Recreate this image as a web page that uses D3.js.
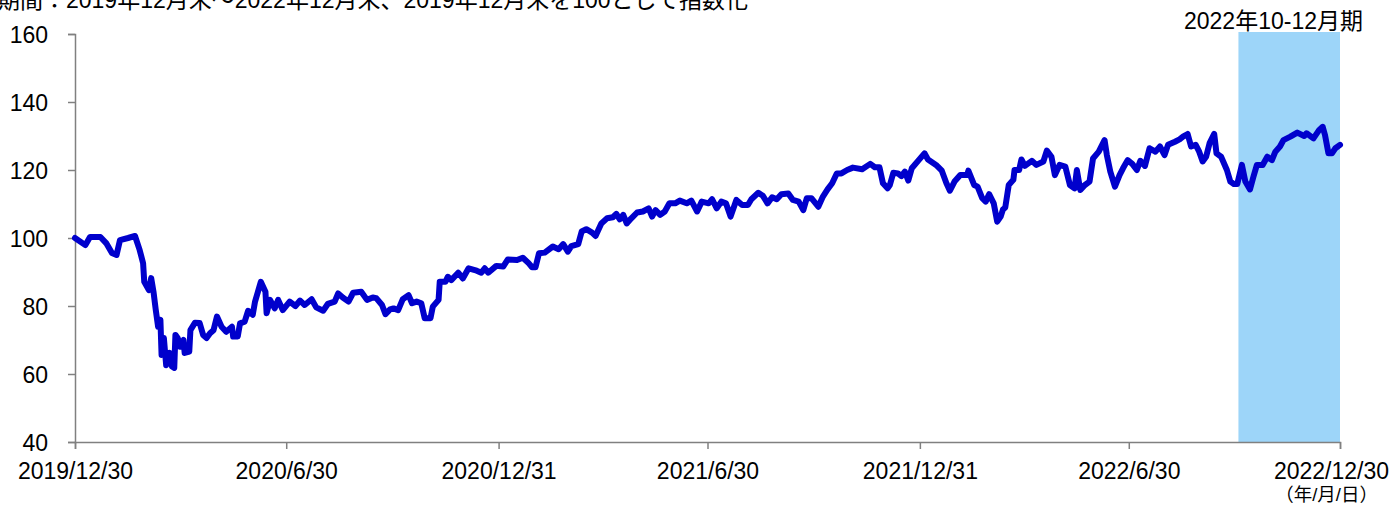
<!DOCTYPE html>
<html>
<head>
<meta charset="utf-8">
<script src="https://cdn.jsdelivr.net/npm/d3@7"></script>
<style>
  body { margin: 0; background: #fff; }
  svg text { font-family: "Liberation Sans", Arial, "Noto Sans CJK JP", sans-serif; }
</style>
</head>
<body>
<div id="chart"></div>
<script>
// data (index, 2019/12/30 = 100)
var dates = [
  '2019-12-30','2020-01-08','2020-01-12','2020-01-21','2020-01-26','2020-01-31','2020-02-04','2020-02-07',
  '2020-02-14','2020-02-20','2020-02-24','2020-02-27','2020-02-28','2020-03-03','2020-03-05','2020-03-07',
  '2020-03-09','2020-03-11','2020-03-13','2020-03-14','2020-03-16','2020-03-18','2020-03-21','2020-03-23',
  '2020-03-25','2020-03-26','2020-03-28','2020-03-30','2020-04-02','2020-04-03','2020-04-07','2020-04-08',
  '2020-04-12','2020-04-16','2020-04-19','2020-04-22','2020-04-25','2020-04-28','2020-05-01','2020-05-05',
  '2020-05-09','2020-05-14','2020-05-15','2020-05-19','2020-05-21','2020-05-25','2020-05-28','2020-06-01',
  '2020-06-03','2020-06-08','2020-06-12','2020-06-13','2020-06-16','2020-06-20','2020-06-23','2020-06-27',
  '2020-07-03','2020-07-08','2020-07-12','2020-07-16','2020-07-22','2020-07-26','2020-08-01','2020-08-05',
  '2020-08-11','2020-08-14','2020-08-18','2020-08-23','2020-08-27','2020-09-03','2020-09-08','2020-09-13',
  '2020-09-16','2020-09-21','2020-09-24','2020-09-28','2020-10-01','2020-10-05','2020-10-09','2020-10-14',
  '2020-10-17','2020-10-21','2020-10-25','2020-10-28','2020-11-02','2020-11-04','2020-11-09','2020-11-10',
  '2020-11-15','2020-11-17','2020-11-20','2020-11-26','2020-11-30','2020-12-05','2020-12-12','2020-12-16',
  '2020-12-19','2020-12-22','2020-12-29','2021-01-04','2021-01-08','2021-01-16','2021-01-21','2021-01-26',
  '2021-01-29','2021-02-01','2021-02-04','2021-02-09','2021-02-16','2021-02-21','2021-02-25','2021-03-01',
  '2021-03-04','2021-03-10','2021-03-13','2021-03-17','2021-03-22','2021-03-25','2021-03-30','2021-04-04',
  '2021-04-09','2021-04-12','2021-04-15','2021-04-18','2021-04-21','2021-04-25','2021-04-30','2021-05-05',
  '2021-05-10','2021-05-13','2021-05-16','2021-05-20','2021-05-24','2021-05-28','2021-06-02','2021-06-06',
  '2021-06-12','2021-06-16','2021-06-21','2021-06-25','2021-07-01','2021-07-04','2021-07-08','2021-07-12',
  '2021-07-16','2021-07-20','2021-07-25','2021-07-30','2021-08-04','2021-08-07','2021-08-13','2021-08-17',
  '2021-08-21','2021-08-25','2021-08-29','2021-09-02','2021-09-08','2021-09-12','2021-09-17','2021-09-21',
  '2021-09-24','2021-09-28','2021-10-04','2021-10-08','2021-10-12','2021-10-16','2021-10-20','2021-10-24',
  '2021-10-29','2021-11-03','2021-11-11','2021-11-18','2021-11-22','2021-11-26','2021-11-29','2021-12-03',
  '2021-12-05','2021-12-08','2021-12-12','2021-12-15','2021-12-18','2021-12-21','2021-12-24','2021-12-30',
  '2022-01-04','2022-01-07','2022-01-14','2022-01-19','2022-01-23','2022-01-26','2022-01-30','2022-02-04',
  '2022-02-10','2022-02-11','2022-02-16','2022-02-19','2022-02-23','2022-02-26','2022-03-01','2022-03-05',
  '2022-03-08','2022-03-11','2022-03-13','2022-03-15','2022-03-18','2022-03-22','2022-03-23','2022-03-27',
  '2022-03-29','2022-04-01','2022-04-07','2022-04-11','2022-04-17','2022-04-20','2022-04-24','2022-04-27',
  '2022-05-01','2022-05-06','2022-05-10','2022-05-14','2022-05-16','2022-05-19','2022-05-23','2022-05-27',
  '2022-05-30','2022-06-04','2022-06-09','2022-06-11','2022-06-14','2022-06-18','2022-06-22','2022-06-25',
  '2022-06-29','2022-07-03','2022-07-07','2022-07-10','2022-07-14','2022-07-18','2022-07-23','2022-07-27',
  '2022-07-31','2022-08-03','2022-08-09','2022-08-13','2022-08-16','2022-08-20','2022-08-23','2022-08-27',
  '2022-08-30','2022-09-02','2022-09-05','2022-09-08','2022-09-12','2022-09-14','2022-09-18','2022-09-23',
  '2022-09-26','2022-09-29','2022-10-02','2022-10-06','2022-10-09','2022-10-13','2022-10-16','2022-10-19',
  '2022-10-24','2022-10-28','2022-11-01','2022-11-04','2022-11-08','2022-11-11','2022-11-17','2022-11-23',
  '2022-11-29','2022-12-01','2022-12-07','2022-12-12','2022-12-15','2022-12-17','2022-12-20','2022-12-23',
  '2022-12-26','2022-12-30'
]
var values = [
  100.0, 97.9, 100.3, 100.3, 98.5, 95.6, 95.0, 99.4,
  100.0, 100.6, 96.5, 92.6, 87.1, 84.7, 88.2, 84.2,
  78.8, 73.9, 75.9, 65.6, 70.6, 62.6, 66.2, 62.2,
  61.8, 71.5, 70.6, 68.0, 70.0, 66.2, 66.6, 72.9,
  75.1, 75.0, 71.5, 70.6, 72.0, 72.9, 76.9, 73.9,
  72.4, 73.9, 71.0, 71.0, 74.9, 75.4, 78.6, 77.4,
  81.3, 87.1, 84.2, 77.9, 81.8, 79.3, 81.8, 78.8,
  81.3, 80.0, 81.6, 80.3, 82.0, 79.6, 78.6, 80.6,
  81.3, 83.7, 82.5, 81.3, 83.9, 84.2, 81.8, 82.5,
  82.3, 80.3, 77.6, 79.0, 79.3, 78.8, 82.0, 83.2,
  80.8, 81.3, 80.8, 76.4, 76.4, 79.8, 81.8, 87.1,
  87.1, 88.6, 87.6, 89.8, 88.1, 91.1, 90.4, 89.8,
  91.1, 89.8, 91.8, 91.6, 93.7, 93.5, 94.2, 92.6,
  91.4, 91.4, 95.5, 95.7, 97.5, 96.7, 98.2, 96.0,
  97.6, 98.2, 101.9, 102.6, 101.6, 100.6, 104.3, 105.8,
  106.1, 107.1, 105.5, 106.8, 104.3, 105.8, 107.5, 107.8,
  108.7, 106.3, 108.2, 106.8, 107.8, 110.2, 110.2, 111.0,
  110.2, 111.0, 107.8, 110.7, 110.2, 111.4, 108.7, 110.7,
  110.2, 106.3, 111.2, 109.7, 109.7, 111.4, 113.3, 112.4,
  110.2, 112.0, 111.4, 112.9, 113.1, 111.2, 110.7, 108.2,
  111.7, 111.7, 109.2, 112.2, 114.3, 116.1, 119.0, 119.0,
  120.0, 120.7, 120.2, 121.8, 120.8, 120.8, 116.1, 114.6,
  115.6, 119.2, 119.0, 118.2, 119.5, 116.9, 120.5, 122.9,
  124.9, 123.1, 121.5, 119.8, 116.1, 113.9, 116.6, 118.5,
  118.5, 119.8, 115.6, 115.1, 111.7, 110.7, 112.9, 110.2,
  104.8, 106.3, 108.4, 109.0, 115.6, 117.1, 120.0, 120.0,
  123.1, 121.2, 122.7, 121.5, 122.5, 125.7, 123.9, 118.5,
  121.5, 121.0, 115.6, 114.6, 120.0, 114.1, 115.6, 116.6,
  123.4, 125.4, 128.8, 124.4, 119.5, 115.1, 118.5, 120.5,
  122.9, 121.8, 120.0, 122.7, 121.2, 126.4, 125.4, 126.9,
  124.4, 127.4, 128.3, 129.0, 129.8, 130.6, 126.9, 127.4,
  125.4, 122.5, 123.9, 127.9, 130.6, 124.9, 123.9, 120.0,
  116.6, 115.9, 115.9, 121.5, 116.6, 114.3, 118.0, 121.5,
  121.5, 123.9, 122.9, 125.4, 126.9, 128.8, 129.8, 131.0,
  130.0, 130.8, 129.3, 131.8, 132.7, 130.3, 124.9, 124.9,
  126.4, 127.4
]

var yTicks = [40, 60, 80, 100, 120, 140, 160]
var xTicks = ['2019-12-30', '2020-06-30', '2020-12-31', '2021-06-30', '2021-12-31', '2022-06-30', '2022-12-30']
var shadeRange = ['2022-10-03', '2022-12-30']

var titleText = '期間：2019年12月末～2022年12月末、2019年12月末を100として指数化'
var shadeLabel = '2022年10-12月期'
var unitLabel = '（年/月/日）'

var parse = d3.timeParse('%Y-%m-%d')
var fmt = d3.timeFormat('%Y/%-m/%-d')

var W = 1391, H = 505
var margin = {top: 34, right: 51, bottom: 63, left: 75}
var width = W - margin.left - margin.right,
    height = H - margin.top - margin.bottom

var data = dates.map(function(d, i){ return {date: parse(d), value: values[i]} })

var svg = d3.select('#chart').append('svg')
  .attr('width', W).attr('height', H)

var g = svg.append('g')
  .attr('transform', 'translate(' + margin.left + ',' + margin.top + ')')

var x = d3.scaleTime()
  .domain([parse(xTicks[0]), parse(xTicks[xTicks.length - 1])])
  .range([0, width])

var y = d3.scaleLinear()
  .domain([40, 160])
  .range([height, 0])

// shaded quarter
g.append('rect')
  .attr('x', x(parse(shadeRange[0])))
  .attr('y', -2)
  .attr('width', x(parse(shadeRange[1])) - x(parse(shadeRange[0])))
  .attr('height', height + 2)
  .attr('fill', '#9dd5f9')

g.append('text')
  .attr('x', x(parse(shadeRange[1])) + 23)
  .attr('y', -5)
  .attr('text-anchor', 'end')
  .attr('font-size', '23px')
  .attr('fill', '#000')
  .text(shadeLabel)

// y axis
var yAxis = g.append('g')
  .call(d3.axisLeft(y).tickValues(yTicks).tickSize(7).tickPadding(20))
yAxis.selectAll('text').attr('font-size', '23px').attr('fill', '#000')
  .attr('dy', '0.36em')

// x axis
var xAxis = g.append('g')
  .attr('transform', 'translate(0,' + height + ')')
  .call(d3.axisBottom(x).tickValues(xTicks.map(parse)).tickFormat(fmt).tickSize(7).tickPadding(14))
xAxis.selectAll('text').attr('font-size', '23px').attr('fill', '#000')
xAxis.selectAll('.tick:last-of-type text').attr('dx', '-9px')

g.selectAll('.domain, .tick line').attr('stroke', '#808080').attr('stroke-width', 1.5)

// line
var line = d3.line()
  .x(function(d){ return x(d.date) })
  .y(function(d){ return y(d.value) })

g.append('path')
  .datum(data)
  .attr('fill', 'none')
  .attr('stroke', '#0000cc')
  .attr('stroke-width', 6)
  .attr('stroke-linejoin', 'round')
  .attr('stroke-linecap', 'round')
  .attr('d', line)

// texts
svg.append('text')
  .attr('x', -3)
  .attr('y', 8)
  .attr('font-size', '23px')
  .attr('fill', '#000')
  .text(titleText)

svg.append('text')
  .attr('x', 1378)
  .attr('y', 501)
  .attr('text-anchor', 'end')
  .attr('font-size', '18.5px')
  .attr('fill', '#000')
  .text(unitLabel)
</script>
</body>
</html>
